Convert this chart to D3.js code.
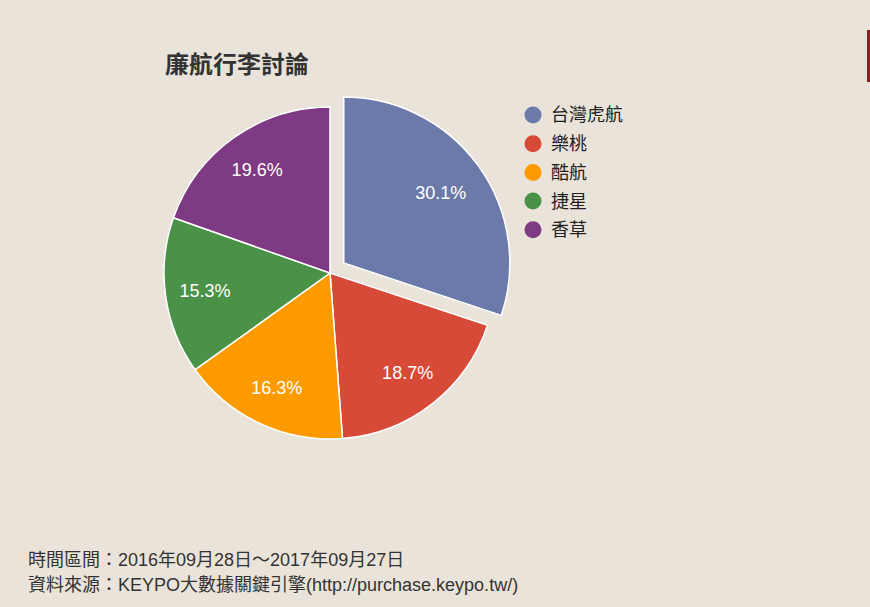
<!DOCTYPE html>
<html>
<head>
<meta charset="utf-8">
<script src="https://cdn.jsdelivr.net/npm/d3@7"></script>
<style>
  html, body { margin: 0; padding: 0; background: #e9e3da; }
  body { width: 870px; height: 607px; overflow: hidden; position: relative;
         font-family: "Liberation Sans", "Noto Sans CJK TC", sans-serif; }
  .redbar { position: absolute; left: 867px; top: 30px; width: 3px; height: 52px; background: #8e1f24; }
</style>
</head>
<body>
<div class="redbar"></div>
<svg id="chart" width="870" height="607"></svg>
<script>
// 航空公司
let airlines = ['台灣虎航', '樂桃', '酷航', '捷星', '香草'];
// 討論聲量 (%)
let shares = [30.1, 18.7, 16.3, 15.3, 19.6];
let colors = ['#6b7aa8', '#d74a38', '#fd9a00', '#4a9248', '#7e3a82'];
let footer = [
  '時間區間：2016年09月28日～2017年09月27日',
  '資料來源：KEYPO大數據關鍵引擎(http://purchase.keypo.tw/)'
];

let svg = d3.select('#chart');
let cx = 330, cy = 273, radius = 166;
let explode = 17;

svg.append('text')
  .attr('x', 165)
  .attr('y', 73)
  .attr('font-size', 24)
  .attr('font-weight', 'bold')
  .attr('fill', '#333')
  .text('廉航行李討論');

let pie = d3.pie().sort(null).value(d => d);
let arc = d3.arc().innerRadius(0).outerRadius(radius);
let labelArc = d3.arc().innerRadius(radius * 0.52).outerRadius(radius * 1.0);

let slices = pie(shares);

let g = svg.append('g').attr('transform', 'translate(' + cx + ',' + cy + ')');

let s = g.selectAll('g.slice')
  .data(slices)
  .enter()
  .append('g')
  .attr('class', 'slice')
  .attr('transform', function(d, i) {
    if (i != 0) return null;
    let a = (d.startAngle + d.endAngle) / 2;
    return 'translate(' + (Math.sin(a) * explode) + ',' + (-Math.cos(a) * explode) + ')';
  });

s.append('path')
  .attr('d', arc)
  .attr('fill', (d, i) => colors[i])
  .attr('stroke', '#fff')
  .attr('stroke-width', 1.5);

s.append('text')
  .attr('transform', function(d, i) {
    let c = (i == 0 ? d3.arc().innerRadius(radius * 0.44).outerRadius(radius) : labelArc).centroid(d);
    return 'translate(' + c + ')';
  })
  .attr('text-anchor', 'middle')
  .attr('dy', '0.35em')
  .attr('font-size', 18)
  .attr('fill', '#fff')
  .text(d => d.data.toFixed(1) + '%');

// Legende
let legend = svg.append('g').attr('transform', 'translate(533,115)');
let li = legend.selectAll('g')
  .data(airlines)
  .enter()
  .append('g')
  .attr('transform', (d, i) => 'translate(0,' + (i * 28.7) + ')');

li.append('circle')
  .attr('r', 8.5)
  .attr('fill', (d, i) => colors[i]);

li.append('text')
  .attr('x', 18)
  .attr('dy', '0.36em')
  .attr('font-size', 18)
  .attr('fill', '#222')
  .text(d => d);

svg.selectAll('text.footer')
  .data(footer)
  .enter()
  .append('text')
  .attr('class', 'footer')
  .attr('x', 28)
  .attr('y', (d, i) => 566 + i * 25)
  .attr('font-size', 18)
  .attr('fill', '#333')
  .text(d => d);
</script>
</body>
</html>
